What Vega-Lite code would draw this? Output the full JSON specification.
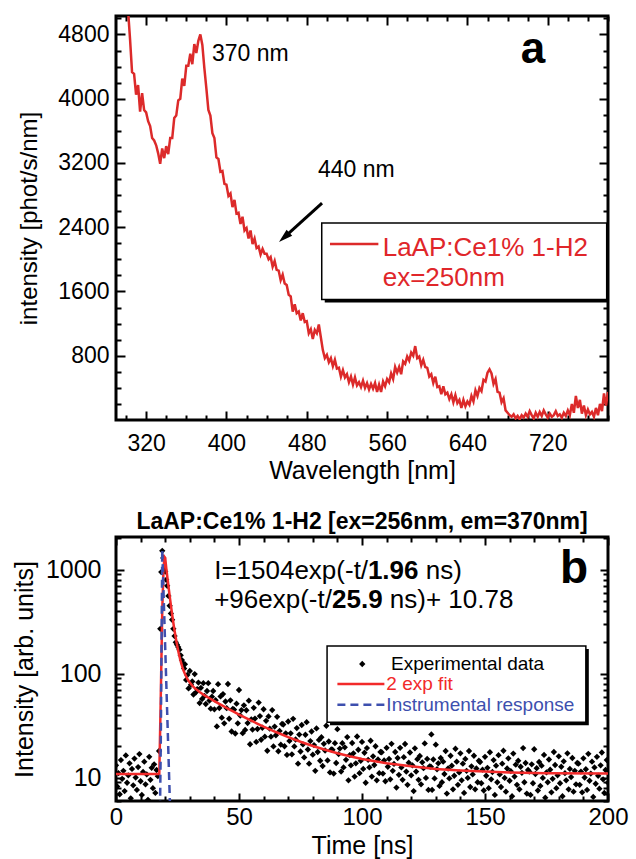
{
  "$schema": "https://vega.github.io/schema/vega-lite/v6.json",
  "background": "white",
  "padding": {"left": 10, "top": 13, "right": 0, "bottom": 0},
  "spacing": 24,
  "datasets": {
    "spectrum": [
      {"nm":300,"v":5600},{"nm":302,"v":5100},{"nm":304,"v":4740},{"nm":306,"v":4330},{"nm":308,"v":4310},{"nm":310,"v":4050},{"nm":312,"v":4170},{"nm":314,"v":3840},{"nm":316,"v":4070},{"nm":318,"v":3860},
      {"nm":320,"v":3830},{"nm":322,"v":3720},{"nm":324,"v":3660},{"nm":326,"v":3510},{"nm":328,"v":3480},{"nm":330,"v":3420},{"nm":332,"v":3320},{"nm":334,"v":3190},{"nm":336,"v":3380},{"nm":338,"v":3260},
      {"nm":340,"v":3410},{"nm":342,"v":3310},{"nm":344,"v":3510},{"nm":346,"v":3510},{"nm":348,"v":3760},{"nm":350,"v":3790},{"nm":352,"v":3980},{"nm":354,"v":4000},{"nm":356,"v":4250},{"nm":358,"v":4160},
      {"nm":360,"v":4410},{"nm":362,"v":4410},{"nm":364,"v":4560},{"nm":366,"v":4430},{"nm":368,"v":4680},{"nm":370,"v":4570},{"nm":372,"v":4720},{"nm":374,"v":4800},{"nm":376,"v":4670},{"nm":378,"v":4380},
      {"nm":380,"v":4130},{"nm":382,"v":3860},{"nm":384,"v":3790},{"nm":386,"v":3570},{"nm":388,"v":3510},{"nm":390,"v":3270},{"nm":392,"v":3250},{"nm":394,"v":3090},{"nm":396,"v":3100},{"nm":398,"v":2940},
      {"nm":400,"v":2930},{"nm":402,"v":2790},{"nm":404,"v":2820},{"nm":406,"v":2650},{"nm":408,"v":2740},{"nm":410,"v":2570},{"nm":412,"v":2580},{"nm":414,"v":2440},{"nm":416,"v":2530},{"nm":418,"v":2360},
      {"nm":420,"v":2390},{"nm":422,"v":2260},{"nm":424,"v":2360},{"nm":426,"v":2190},{"nm":428,"v":2260},{"nm":430,"v":2140},{"nm":432,"v":2160},{"nm":434,"v":2060},{"nm":436,"v":2130},{"nm":438,"v":2070},
      {"nm":440,"v":2070},{"nm":442,"v":2000},{"nm":444,"v":2030},{"nm":446,"v":1910},{"nm":448,"v":1980},{"nm":450,"v":1870},{"nm":452,"v":1860},{"nm":454,"v":1740},{"nm":456,"v":1810},{"nm":458,"v":1700},
      {"nm":460,"v":1680},{"nm":462,"v":1560},{"nm":464,"v":1540},{"nm":466,"v":1350},{"nm":468,"v":1440},{"nm":470,"v":1330},{"nm":472,"v":1350},{"nm":474,"v":1240},{"nm":476,"v":1330},{"nm":478,"v":1220},
      {"nm":480,"v":1230},{"nm":482,"v":1080},{"nm":484,"v":1130},{"nm":486,"v":1010},{"nm":488,"v":1120},{"nm":490,"v":1080},{"nm":492,"v":1190},{"nm":494,"v":1030},{"nm":496,"v":870},{"nm":498,"v":770},
      {"nm":500,"v":810},{"nm":502,"v":720},{"nm":504,"v":770},{"nm":506,"v":670},{"nm":508,"v":750},{"nm":510,"v":640},{"nm":512,"v":650},{"nm":514,"v":540},{"nm":516,"v":620},{"nm":518,"v":530},
      {"nm":520,"v":570},{"nm":522,"v":470},{"nm":524,"v":540},{"nm":526,"v":440},{"nm":528,"v":530},{"nm":530,"v":430},{"nm":532,"v":470},{"nm":534,"v":410},{"nm":536,"v":490},{"nm":538,"v":400},
      {"nm":540,"v":460},{"nm":542,"v":380},{"nm":544,"v":450},{"nm":546,"v":390},{"nm":548,"v":460},{"nm":550,"v":350},{"nm":552,"v":440},{"nm":554,"v":350},{"nm":556,"v":480},{"nm":558,"v":420},
      {"nm":560,"v":510},{"nm":562,"v":470},{"nm":564,"v":580},{"nm":566,"v":510},{"nm":568,"v":660},{"nm":570,"v":590},{"nm":572,"v":660},{"nm":574,"v":570},{"nm":576,"v":730},{"nm":578,"v":700},
      {"nm":580,"v":790},{"nm":582,"v":740},{"nm":584,"v":840},{"nm":586,"v":800},{"nm":588,"v":920},{"nm":590,"v":770},{"nm":592,"v":790},{"nm":594,"v":680},{"nm":596,"v":750},{"nm":598,"v":660},
      {"nm":600,"v":650},{"nm":602,"v":540},{"nm":604,"v":570},{"nm":606,"v":460},{"nm":608,"v":540},{"nm":610,"v":410},{"nm":612,"v":420},{"nm":614,"v":320},{"nm":616,"v":420},{"nm":618,"v":320},
      {"nm":620,"v":340},{"nm":622,"v":260},{"nm":624,"v":320},{"nm":626,"v":220},{"nm":628,"v":310},{"nm":630,"v":210},{"nm":632,"v":250},{"nm":634,"v":150},{"nm":636,"v":250},{"nm":638,"v":170},
      {"nm":640,"v":230},{"nm":642,"v":190},{"nm":644,"v":300},{"nm":646,"v":230},{"nm":648,"v":370},{"nm":650,"v":300},{"nm":652,"v":400},{"nm":654,"v":360},{"nm":656,"v":500},{"nm":658,"v":480},
      {"nm":660,"v":590},{"nm":662,"v":630},{"nm":664,"v":580},{"nm":666,"v":450},{"nm":668,"v":510},{"nm":670,"v":350},{"nm":672,"v":340},{"nm":674,"v":220},{"nm":676,"v":270},{"nm":678,"v":120},
      {"nm":680,"v":90},{"nm":682,"v":60},{"nm":684,"v":40},{"nm":686,"v":70},{"nm":688,"v":20},{"nm":690,"v":50},{"nm":692,"v":10},{"nm":694,"v":60},{"nm":696,"v":30},{"nm":698,"v":80},
      {"nm":700,"v":40},{"nm":702,"v":110},{"nm":704,"v":60},{"nm":706,"v":20},{"nm":708,"v":90},{"nm":710,"v":40},{"nm":712,"v":100},{"nm":714,"v":50},{"nm":716,"v":120},{"nm":718,"v":70},
      {"nm":720,"v":30},{"nm":722,"v":80},{"nm":724,"v":40},{"nm":726,"v":60},{"nm":728,"v":110},{"nm":730,"v":50},{"nm":732,"v":70},{"nm":734,"v":30},{"nm":736,"v":90},{"nm":738,"v":50},
      {"nm":740,"v":120},{"nm":742,"v":60},{"nm":744,"v":200},{"nm":746,"v":90},{"nm":748,"v":300},{"nm":750,"v":150},{"nm":752,"v":250},{"nm":754,"v":80},{"nm":756,"v":180},{"nm":758,"v":60},
      {"nm":760,"v":130},{"nm":762,"v":70},{"nm":764,"v":100},{"nm":766,"v":40},{"nm":768,"v":150},{"nm":770,"v":60},{"nm":772,"v":200},{"nm":774,"v":110},{"nm":776,"v":330},{"nm":778,"v":180},{"nm":780,"v":350}
    ],
    "decay": [
      {"t":0,"v":13.1},{"t":0.5,"v":8.2},{"t":1,"v":11.0},{"t":1.5,"v":6.9},{"t":2,"v":14.7},{"t":2.5,"v":9.7},{"t":3,"v":11.6},{"t":3.5,"v":7.4},{"t":4,"v":16.3},{"t":4.5,"v":8.9},
      {"t":5,"v":10.5},{"t":5.5,"v":13.7},{"t":6,"v":6.3},{"t":6.5,"v":12.1},{"t":7,"v":8.4},{"t":7.5,"v":15.2},{"t":8,"v":10.0},{"t":8.5,"v":7.6},{"t":9,"v":12.6},{"t":9.5,"v":16.8},
      {"t":10,"v":9.2},{"t":10.5,"v":6.8},{"t":11,"v":11.3},{"t":11.5,"v":14.2},{"t":12,"v":8.6},{"t":12.5,"v":10.7},{"t":13,"v":6.1},{"t":13.5,"v":15.8},{"t":14,"v":9.5},{"t":14.5,"v":12.4},
      {"t":15,"v":7.9},{"t":15.5,"v":13.4},{"t":16,"v":7.1},{"t":16.5,"v":11.8},{"t":17,"v":10.3},
      {"t":17.5,"v":18},{"t":18.0,"v":270},{"t":18.4,"v":950},{"t":18.8,"v":1520},{"t":19.2,"v":1300},{"t":19.6,"v":1000},{"t":20.0,"v":960},{"t":20.4,"v":800},{"t":20.8,"v":700},{"t":21.3,"v":560},
      {"t":21.8,"v":450},{"t":22.3,"v":380},{"t":22.8,"v":330},{"t":23.3,"v":270},{"t":23.8,"v":230},{"t":24.3,"v":200},{"t":24.8,"v":190},{"t":25.3,"v":180},{"t":25.8,"v":170},{"t":26.3,"v":150},
      {"t":26.8,"v":135},{"t":27.3,"v":125},{"t":27.7,"v":112},
      {"t":28,"v":123},{"t":28.5,"v":87},{"t":29,"v":97},{"t":29.5,"v":72},{"t":30,"v":106},{"t":30.5,"v":78},{"t":31,"v":84},{"t":31.5,"v":63},{"t":32,"v":99},{"t":32.5,"v":66},
      {"t":33,"v":71},{"t":33.5,"v":82},{"t":34,"v":52},{"t":34.5,"v":73},{"t":35,"v":57},{"t":35.5,"v":81},{"t":36,"v":61},{"t":36.5,"v":51},{"t":37,"v":68},{"t":37.5,"v":81},
      {"t":38,"v":55},{"t":38.5,"v":46},{"t":39,"v":60},{"t":39.5,"v":68},{"t":40,"v":45.3},{"t":40.5,"v":55.5},{"t":41,"v":31.0},{"t":41.5,"v":79.1},{"t":42,"v":46.7},{"t":42.5,"v":60.3},
      {"t":43,"v":37.7},{"t":43.5,"v":63.5},{"t":44,"v":33.2},{"t":44.5,"v":53.9},{"t":45,"v":46.5},{"t":45.5,"v":79.4},{"t":46,"v":36.8},{"t":46.5,"v":55.3},{"t":47,"v":27.7},{"t":47.5,"v":45.8},
      {"t":48,"v":45.1},{"t":48.5,"v":26.5},{"t":49,"v":51.4},{"t":49.5,"v":33.2},{"t":50,"v":69.5},{"t":50.5,"v":39.5},{"t":51,"v":44.6},{"t":51.5,"v":26.7},{"t":52,"v":49.5},{"t":52.5,"v":28.7},
      {"t":53,"v":44.4},{"t":53.5,"v":33.4},{"t":54,"v":54.9},{"t":54.5,"v":20.9},{"t":55,"v":36.3},{"t":55.5,"v":28.9},{"t":56,"v":46.8},{"t":56.5,"v":36.9},{"t":57,"v":22.0},{"t":57.5,"v":29.3},
      {"t":58,"v":52.6},{"t":58.5,"v":39.0},{"t":59,"v":23.1},{"t":59.5,"v":30.1},{"t":60,"v":45.4},{"t":60.5,"v":24.7},{"t":61,"v":35.1},{"t":61.5,"v":18.1},{"t":62,"v":38.7},{"t":62.5,"v":29.5},
      {"t":63,"v":24.7},{"t":63.5,"v":44.6},{"t":64,"v":19.9},{"t":64.5,"v":30.9},{"t":65,"v":25.5},{"t":65.5,"v":38.4},{"t":66,"v":17.9},{"t":66.5,"v":28.1},{"t":67,"v":20.7},{"t":67.5,"v":32.8},
      {"t":68,"v":32.4},{"t":68.5,"v":20.0},{"t":69,"v":26.6},{"t":69.5,"v":16.5},{"t":70,"v":34.6},{"t":70.5,"v":22.5},{"t":71,"v":26.6},{"t":71.5,"v":16.7},{"t":72,"v":36.7},{"t":72.5,"v":19.9},
      {"t":73,"v":23.2},{"t":73.5,"v":29.9},{"t":74,"v":13.6},{"t":74.5,"v":25.9},{"t":75,"v":17.8},{"t":75.5,"v":32.0},{"t":76,"v":20.8},{"t":76.5,"v":15.6},{"t":77,"v":25.8},{"t":77.5,"v":34.1},
      {"t":78,"v":18.6},{"t":78.5,"v":13.6},{"t":79,"v":22.4},{"t":79.5,"v":27.7},{"t":80,"v":16.6},{"t":80.5,"v":20.5},{"t":81,"v":11.6},{"t":81.5,"v":29.7},{"t":82,"v":17.6},{"t":82.5,"v":23.0},
      {"t":83,"v":14.5},{"t":83.5,"v":24.4},{"t":84,"v":12.9},{"t":84.5,"v":21.1},{"t":85,"v":18.2},{"t":85.5,"v":31.5},{"t":86,"v":14.6},{"t":86.5,"v":22.2},{"t":87,"v":11.2},{"t":87.5,"v":18.6},
      {"t":88,"v":18.5},{"t":88.5,"v":10.9},{"t":89,"v":21.4},{"t":89.5,"v":13.8},{"t":90,"v":29.2},{"t":90.5,"v":16.8},{"t":91,"v":19.0},{"t":91.5,"v":11.4},{"t":92,"v":21.4},{"t":92.5,"v":12.5},
      {"t":93,"v":19.5},{"t":93.5,"v":14.8},{"t":94,"v":24.5},{"t":94.5,"v":9.4},{"t":95,"v":16.4},{"t":95.5,"v":13.1},{"t":96,"v":21.5},{"t":96.5,"v":17.1},{"t":97,"v":10.2},{"t":97.5,"v":13.7},
      {"t":98,"v":24.8},{"t":98.5,"v":18.5},{"t":99,"v":11.0},{"t":99.5,"v":14.5},{"t":100,"v":22.0},{"t":100.5,"v":12.1},{"t":101,"v":17.3},{"t":101.5,"v":8.9},{"t":102,"v":19.2},{"t":102.5,"v":14.8},
      {"t":103,"v":12.5},{"t":103.5,"v":22.6},{"t":104,"v":10.2},{"t":104.5,"v":16.0},{"t":105,"v":13.2},{"t":105.5,"v":20.0},{"t":106,"v":9.4},{"t":106.5,"v":14.9},{"t":107,"v":11.0},{"t":107.5,"v":17.6},
      {"t":108,"v":17.5},{"t":108.5,"v":10.9},{"t":109,"v":14.6},{"t":109.5,"v":9.2},{"t":110,"v":19.3},{"t":110.5,"v":12.7},{"t":111,"v":15.1},{"t":111.5,"v":9.6},{"t":112,"v":21.1},{"t":112.5,"v":11.6},
      {"t":113,"v":13.5},{"t":113.5,"v":17.6},{"t":114,"v":8.0},{"t":114.5,"v":15.4},{"t":115,"v":10.6},{"t":115.5,"v":19.3},{"t":116,"v":12.5},{"t":116.5,"v":9.5},{"t":117,"v":15.7},{"t":117.5,"v":21.0},
      {"t":118,"v":11.4},{"t":118.5,"v":8.5},{"t":119,"v":13.9},{"t":119.5,"v":17.4},{"t":120,"v":10.5},{"t":120.5,"v":13.1},{"t":121,"v":7.4},{"t":121.5,"v":19.1},{"t":122,"v":11.4},{"t":122.5,"v":15.0},
      {"t":123,"v":9.5},{"t":123.5,"v":16.1},{"t":124,"v":8.6},{"t":124.5,"v":14.0},{"t":125,"v":12.3},{"t":125.5,"v":21.3},{"t":126,"v":9.9},{"t":126.5,"v":15.1},{"t":127,"v":7.6},{"t":127.5,"v":12.8},
      {"t":128.2,"v":26},
      {"t":128,"v":12.7},{"t":128.5,"v":7.6},{"t":129,"v":14.9},{"t":129.5,"v":9.8},{"t":130,"v":20.7},{"t":130.5,"v":12.0},{"t":131,"v":13.7},{"t":131.5,"v":8.3},{"t":132,"v":15.4},{"t":132.5,"v":9.0},
      {"t":133,"v":14.2},{"t":133.5,"v":10.8},{"t":134,"v":18.0},{"t":134.5,"v":7.0},{"t":135,"v":12.2},{"t":135.5,"v":9.8},{"t":136,"v":16.2},{"t":136.5,"v":13.0},{"t":137,"v":7.7},{"t":137.5,"v":10.4},
      {"t":138,"v":18.9},{"t":138.5,"v":14.2},{"t":139,"v":8.5},{"t":139.5,"v":11.2},{"t":140,"v":17.1},{"t":140.5,"v":9.4},{"t":141,"v":13.6},{"t":141.5,"v":7.1},{"t":142,"v":15.1},{"t":142.5,"v":11.6},
      {"t":143,"v":9.9},{"t":143.5,"v":18.0},{"t":144,"v":8.1},{"t":144.5,"v":12.8},{"t":145,"v":10.7},{"t":145.5,"v":16.2},{"t":146,"v":7.7},{"t":146.5,"v":12.2},{"t":147,"v":9.0},{"t":147.5,"v":14.5},
      {"t":148,"v":14.1},{"t":148.5,"v":8.8},{"t":149,"v":11.9},{"t":149.5,"v":7.5},{"t":150,"v":15.8},{"t":150.5,"v":10.4},{"t":151,"v":12.4},{"t":151.5,"v":7.9},{"t":152,"v":17.5},{"t":152.5,"v":9.6},
      {"t":153,"v":11.3},{"t":153.5,"v":14.7},{"t":154,"v":6.8},{"t":154.5,"v":13.0},{"t":155,"v":9.0},{"t":155.5,"v":16.4},{"t":156,"v":10.7},{"t":156.5,"v":8.1},{"t":157,"v":13.6},{"t":157.5,"v":18.1},
      {"t":158,"v":9.9},{"t":158.5,"v":7.3},{"t":159,"v":12.2},{"t":159.5,"v":15.3},{"t":160,"v":9.3},{"t":160.5,"v":11.5},{"t":161,"v":6.6},{"t":161.5,"v":17.0},{"t":162,"v":10.2},{"t":162.5,"v":13.3},
      {"t":163,"v":8.5},{"t":163.5,"v":14.5},{"t":164,"v":7.7},{"t":164.5,"v":12.7},{"t":165,"v":11.1},{"t":165.5,"v":19.2},{"t":166,"v":9.0},{"t":166.5,"v":13.8},{"t":167,"v":7.0},{"t":167.5,"v":11.8},
      {"t":168,"v":11.4},{"t":168.5,"v":6.8},{"t":169,"v":13.4},{"t":169.5,"v":8.8},{"t":170,"v":18.7},{"t":170.5,"v":10.8},{"t":171,"v":12.3},{"t":171.5,"v":7.5},{"t":172,"v":14.1},{"t":172.5,"v":8.3},
      {"t":173,"v":13.0},{"t":173.5,"v":9.9},{"t":174,"v":16.5},{"t":174.5,"v":6.4},{"t":175,"v":11.2},{"t":175.5,"v":9.0},{"t":176,"v":14.9},{"t":176.5,"v":11.9},{"t":177,"v":7.2},{"t":177.5,"v":9.7},
      {"t":178,"v":17.6},{"t":178.5,"v":13.2},{"t":179,"v":7.9},{"t":179.5,"v":10.5},{"t":180,"v":16.0},{"t":180.5,"v":8.8},{"t":181,"v":12.7},{"t":181.5,"v":6.6},{"t":182,"v":14.3},{"t":182.5,"v":11.0},
      {"t":183,"v":9.4},{"t":183.5,"v":17.1},{"t":184,"v":7.7},{"t":184.5,"v":12.1},{"t":185,"v":10.1},{"t":185.5,"v":15.4},{"t":186,"v":7.3},{"t":186.5,"v":11.6},{"t":187,"v":8.6},{"t":187.5,"v":13.8},
      {"t":188,"v":13.6},{"t":188.5,"v":8.5},{"t":189,"v":11.4},{"t":189.5,"v":7.2},{"t":190,"v":15.3},{"t":190.5,"v":10.0},{"t":191,"v":12.0},{"t":191.5,"v":7.6},{"t":192,"v":16.9},{"t":192.5,"v":9.3},
      {"t":193,"v":10.9},{"t":193.5,"v":14.2},{"t":194,"v":6.5},{"t":194.5,"v":12.5},{"t":195,"v":8.7},{"t":195.5,"v":15.8},{"t":196,"v":10.4},{"t":196.5,"v":7.8},{"t":197,"v":13.1},{"t":197.5,"v":17.4},
      {"t":198,"v":9.6},{"t":198.5,"v":7.1},{"t":199,"v":11.8},{"t":199.5,"v":14.7},{"t":200,"v":8.9}
    ],
    "fit": [
      {"t":0,"v":10.8},{"t":17.6,"v":10.8},{"t":18.2,"v":60},{"t":18.8,"v":400},{"t":19.3,"v":1000},{"t":19.7,"v":1330},{"t":20.0,"v":1300},{"t":20.5,"v":1005},{"t":21.0,"v":801},{"t":21.5,"v":642},
      {"t":22.0,"v":518},{"t":22.5,"v":422},{"t":23.0,"v":347},{"t":23.5,"v":288},{"t":24.0,"v":243},{"t":24.5,"v":207},{"t":25.0,"v":179},{"t":25.5,"v":157},{"t":26.0,"v":140},{"t":26.5,"v":126},
      {"t":27.0,"v":115.5},{"t":27.5,"v":106.7},{"t":28,"v":99.7},{"t":29,"v":89.1},{"t":30,"v":81.9},{"t":31,"v":76.7},{"t":32,"v":72.6},{"t":33,"v":69.4},{"t":34,"v":66.6},{"t":35,"v":64.1},
      {"t":36,"v":61.8},{"t":37,"v":59.8},{"t":38,"v":57.9},{"t":40,"v":54.4},{"t":42,"v":51.1},{"t":44,"v":48.1},{"t":46,"v":45.3},{"t":48,"v":42.8},{"t":50,"v":40.3},{"t":55,"v":35.2},
      {"t":60,"v":30.9},{"t":65,"v":27.4},{"t":70,"v":24.5},{"t":75,"v":22.1},{"t":80,"v":20.1},{"t":85,"v":18.5},{"t":90,"v":17.1},{"t":95,"v":16.0},{"t":100,"v":15.1},{"t":110,"v":13.7},
      {"t":120,"v":12.8},{"t":130,"v":12.1},{"t":140,"v":11.7},{"t":150,"v":11.4},{"t":160,"v":11.2},{"t":175,"v":11.0},{"t":200,"v":10.9}
    ],
    "irf": [
      {"t":17.9,"v":5},{"t":18.2,"v":21},{"t":18.4,"v":88},{"t":18.6,"v":370},{"t":18.8,"v":1550},{"t":19.2,"v":759},{"t":19.6,"v":368},{"t":20.0,"v":180},{"t":20.4,"v":87.5},{"t":20.8,"v":42.7},
      {"t":21.2,"v":20.8},{"t":21.6,"v":10.1},{"t":22.0,"v":4.9}
    ],
    "one": [{}]
  },
  "vconcat": [
    {
      "width": 492,
      "height": 404,
      "resolve": {"axis": {"x": "independent", "y": "independent"}},
      "layer": [
        {
          "data": {"name": "spectrum"},
          "mark": {"type": "line", "color": "#dc2a2a", "strokeWidth": 2.5, "clip": true},
          "encoding": {
            "x": {"field": "nm", "type": "quantitative", "scale": {"domain": [290, 780], "nice": false, "zero": false},
              "axis": {"orient": "bottom", "values": [320, 400, 480, 560, 640, 720], "format": "d", "tickSize": -9, "labelPadding": 21, "labelFontSize": 23, "title": "Wavelength [nm]", "titleFontSize": 25, "titlePadding": 3}},
            "y": {"field": "v", "type": "quantitative", "scale": {"domain": [0, 5030], "nice": false},
              "axis": {"orient": "left", "values": [800, 1600, 2400, 3200, 4000, 4800], "format": "d", "tickSize": -9, "labelPadding": 16, "labelFontSize": 23, "title": "intensity [phot/s/nm]", "titleFontSize": 24, "titlePadding": 16}}
          }
        },
        {
          "data": {"name": "spectrum"},
          "mark": {"type": "line", "opacity": 0, "clip": true},
          "encoding": {
            "x": {"field": "nm", "type": "quantitative", "axis": {"orient": "bottom", "values": [300, 340, 360, 380, 420, 440, 460, 500, 520, 540, 580, 600, 620, 660, 680, 700, 740, 760, 780], "tickSize": -5, "labels": false, "title": null}},
            "y": {"field": "v", "type": "quantitative", "axis": {"orient": "left", "values": [200, 400, 600, 1000, 1200, 1400, 1800, 2000, 2200, 2600, 2800, 3000, 3400, 3600, 3800, 4200, 4400, 4600, 5000], "tickSize": -5, "labels": false, "title": null}}
          }
        },
        {
          "data": {"name": "spectrum"},
          "mark": {"type": "line", "opacity": 0, "clip": true},
          "encoding": {
            "x": {"field": "nm", "type": "quantitative", "axis": {"orient": "top", "values": [320, 400, 480, 560, 640, 720], "tickSize": -9, "labels": false, "title": null}},
            "y": {"field": "v", "type": "quantitative", "axis": {"orient": "right", "values": [800, 1600, 2400, 3200, 4000, 4800], "tickSize": -9, "labels": false, "title": null}}
          }
        },
        {
          "data": {"name": "spectrum"},
          "mark": {"type": "line", "opacity": 0, "clip": true},
          "encoding": {
            "x": {"field": "nm", "type": "quantitative", "axis": {"orient": "top", "values": [300, 340, 360, 380, 420, 440, 460, 500, 520, 540, 580, 600, 620, 660, 680, 700, 740, 760, 780], "tickSize": -5, "labels": false, "title": null}},
            "y": {"field": "v", "type": "quantitative", "axis": {"orient": "right", "values": [200, 400, 600, 1000, 1200, 1400, 1800, 2000, 2200, 2600, 2800, 3000, 3400, 3600, 3800, 4200, 4400, 4600, 5000], "tickSize": -5, "labels": false, "title": null}}
          }
        },
        {
          "data": {"name": "one"},
          "mark": {"type": "rect", "color": "black", "clip": true},
          "encoding": {"x": {"datum": 497.9, "axis": null}, "x2": {"datum": 781.7}, "y": {"datum": 2416, "axis": null}, "y2": {"datum": 1462}}
        },
        {
          "data": {"name": "one"},
          "mark": {"type": "rect", "fill": "white", "stroke": "black", "strokeWidth": 1.5},
          "encoding": {"x": {"datum": 494.9, "axis": null}, "x2": {"datum": 778.7}, "y": {"datum": 2453, "axis": null}, "y2": {"datum": 1499}}
        },
        {
          "data": {"name": "one"},
          "mark": {"type": "rule", "color": "#dc2a2a", "strokeWidth": 2.5},
          "encoding": {"x": {"datum": 503.1, "axis": null}, "x2": {"datum": 551.3}, "y": {"datum": 2191, "axis": null}}
        },
        {
          "data": {"name": "one"},
          "mark": {"type": "text", "text": "LaAP:Ce1% 1-H2", "color": "#e0262a", "fontSize": 26, "align": "left", "baseline": "alphabetic"},
          "encoding": {"x": {"datum": 555.6, "axis": null}, "y": {"datum": 2047, "axis": null}}
        },
        {
          "data": {"name": "one"},
          "mark": {"type": "text", "text": "ex=250nm", "color": "#e0262a", "fontSize": 26, "align": "left", "baseline": "alphabetic"},
          "encoding": {"x": {"datum": 555.6, "axis": null}, "y": {"datum": 1673, "axis": null}}
        },
        {
          "data": {"name": "one"},
          "mark": {"type": "text", "text": "370 nm", "color": "black", "fontSize": 23, "align": "left", "baseline": "middle"},
          "encoding": {"x": {"datum": 385.6, "axis": null}, "y": {"datum": 4553, "axis": null}}
        },
        {
          "data": {"name": "one"},
          "mark": {"type": "text", "text": "440 nm", "color": "black", "fontSize": 23, "align": "left", "baseline": "middle"},
          "encoding": {"x": {"datum": 491.2, "axis": null}, "y": {"datum": 3109, "axis": null}}
        },
        {
          "data": {"name": "one"},
          "mark": {"type": "rule", "color": "black", "strokeWidth": 3},
          "encoding": {"x": {"datum": 495.2, "axis": null}, "x2": {"datum": 457.5}, "y": {"datum": 2700, "axis": null}, "y2": {"datum": 2273}}
        },
        {
          "data": {"name": "one"},
          "mark": {"type": "point", "shape": "M0,-1L0.6,1L-0.6,1Z", "filled": true, "color": "black", "opacity": 1, "size": 196, "angle": 228},
          "encoding": {"x": {"datum": 457.5, "axis": null}, "y": {"datum": 2273, "axis": null}}
        },
        {
          "data": {"name": "one"},
          "mark": {"type": "text", "text": "a", "color": "black", "fontSize": 44, "fontWeight": "bold", "align": "center", "baseline": "middle"},
          "encoding": {"x": {"datum": 705.3, "axis": null}, "y": {"datum": 4602, "axis": null}}
        }
      ]
    },
    {
      "width": 492,
      "height": 264,
      "title": {"text": "LaAP:Ce1% 1-H2 [ex=256nm, em=370nm]", "fontSize": 23, "fontWeight": "bold", "anchor": "middle", "frame": "group", "offset": 2},
      "resolve": {"axis": {"x": "independent", "y": "independent"}},
      "layer": [
        {
          "data": {"name": "decay"},
          "mark": {"type": "point", "shape": "diamond", "filled": true, "color": "black", "opacity": 1, "size": 40, "clip": true},
          "encoding": {
            "x": {"field": "t", "type": "quantitative", "scale": {"domain": [0, 200], "nice": false, "zero": false},
              "axis": {"orient": "bottom", "values": [0, 50, 100, 150, 200], "format": "d", "tickSize": -8, "labelPadding": 12, "labelFontSize": 24, "title": "Time [ns]", "titleFontSize": 25, "titlePadding": 4}},
            "y": {"field": "v", "type": "quantitative", "scale": {"type": "log", "domain": [5.94, 2066], "nice": false},
              "axis": {"orient": "left", "values": [10, 100, 1000], "format": "d", "tickSize": -8, "labelPadding": 23, "labelFontSize": 25, "title": "Intensity [arb. units]", "titleFontSize": 25, "titlePadding": 8}}
          }
        },
        {
          "data": {"name": "fit"},
          "mark": {"type": "line", "color": "#f22a2a", "strokeWidth": 2.5, "clip": true},
          "encoding": {
            "x": {"field": "t", "type": "quantitative", "axis": {"orient": "bottom", "values": [10, 20, 30, 40, 60, 70, 80, 90, 110, 120, 130, 140, 160, 170, 180, 190], "tickSize": -5, "labels": false, "title": null}},
            "y": {"field": "v", "type": "quantitative", "axis": {"orient": "left", "values": [6, 7, 8, 9, 20, 30, 40, 50, 60, 70, 80, 90, 200, 300, 400, 500, 600, 700, 800, 900, 2000], "tickSize": -5, "labels": false, "title": null}}
          }
        },
        {
          "data": {"name": "irf"},
          "mark": {"type": "line", "color": "#3d4fae", "strokeWidth": 2.5, "strokeDash": [8, 5], "clip": true},
          "encoding": {
            "x": {"field": "t", "type": "quantitative", "axis": {"orient": "top", "values": [0, 50, 100, 150, 200], "tickSize": -8, "labels": false, "title": null}},
            "y": {"field": "v", "type": "quantitative", "axis": {"orient": "right", "values": [10, 100, 1000], "tickSize": -8, "labels": false, "title": null}}
          }
        },
        {
          "data": {"name": "fit"},
          "mark": {"type": "line", "opacity": 0, "clip": true},
          "encoding": {
            "x": {"field": "t", "type": "quantitative", "axis": {"orient": "top", "values": [10, 20, 30, 40, 60, 70, 80, 90, 110, 120, 130, 140, 160, 170, 180, 190], "tickSize": -5, "labels": false, "title": null}},
            "y": {"field": "v", "type": "quantitative", "axis": {"orient": "right", "values": [6, 7, 8, 9, 20, 30, 40, 50, 60, 70, 80, 90, 200, 300, 400, 500, 600, 700, 800, 900, 2000], "tickSize": -5, "labels": false, "title": null}}
          }
        },
        {
          "data": {"name": "one"},
          "mark": {"type": "text", "text": "I=1504exp(-t/", "color": "black", "fontSize": 26, "align": "left", "baseline": "middle"},
          "encoding": {"x": {"datum": 39.9, "axis": null}, "y": {"datum": 977, "axis": null}}
        },
        {
          "data": {"name": "one"},
          "mark": {"type": "text", "text": "1.96", "color": "black", "fontSize": 26, "fontWeight": "bold", "align": "left", "baseline": "middle"},
          "encoding": {"x": {"datum": 102.4, "axis": null}, "y": {"datum": 977, "axis": null}}
        },
        {
          "data": {"name": "one"},
          "mark": {"type": "text", "text": "ns)", "color": "black", "fontSize": 26, "align": "left", "baseline": "middle"},
          "encoding": {"x": {"datum": 125.9, "axis": null}, "y": {"datum": 977, "axis": null}}
        },
        {
          "data": {"name": "one"},
          "mark": {"type": "text", "text": "+96exp(-t/", "color": "black", "fontSize": 26, "align": "left", "baseline": "middle"},
          "encoding": {"x": {"datum": 39.9, "axis": null}, "y": {"datum": 513, "axis": null}}
        },
        {
          "data": {"name": "one"},
          "mark": {"type": "text", "text": "25.9", "color": "black", "fontSize": 26, "fontWeight": "bold", "align": "left", "baseline": "middle"},
          "encoding": {"x": {"datum": 87.8, "axis": null}, "y": {"datum": 513, "axis": null}}
        },
        {
          "data": {"name": "one"},
          "mark": {"type": "text", "text": "ns)+ 10.78", "color": "black", "fontSize": 26, "align": "left", "baseline": "middle"},
          "encoding": {"x": {"datum": 111.3, "axis": null}, "y": {"datum": 513, "axis": null}}
        },
        {
          "data": {"name": "one"},
          "mark": {"type": "text", "text": "b", "color": "black", "fontSize": 46, "fontWeight": "bold", "align": "center", "baseline": "middle"},
          "encoding": {"x": {"datum": 186.2, "axis": null}, "y": {"datum": 1022, "axis": null}}
        },
        {
          "data": {"name": "one"},
          "mark": {"type": "rect", "color": "black"},
          "encoding": {"x": {"datum": 87.0, "axis": null}, "x2": {"datum": 192.2}, "y": {"datum": 172.8, "axis": null}, "y2": {"datum": 31.9}}
        },
        {
          "data": {"name": "one"},
          "mark": {"type": "rect", "fill": "white", "stroke": "black", "strokeWidth": 1.5},
          "encoding": {"x": {"datum": 85.8, "axis": null}, "x2": {"datum": 191.0}, "y": {"datum": 184.7, "axis": null}, "y2": {"datum": 34.1}}
        },
        {
          "data": {"name": "one"},
          "mark": {"type": "point", "shape": "diamond", "filled": true, "color": "black", "opacity": 1, "size": 40},
          "encoding": {"x": {"datum": 100.1, "axis": null}, "y": {"datum": 123.8, "axis": null}}
        },
        {
          "data": {"name": "one"},
          "mark": {"type": "text", "text": "Experimental data", "color": "black", "fontSize": 19, "align": "left", "baseline": "middle"},
          "encoding": {"x": {"datum": 111.8, "axis": null}, "y": {"datum": 123.8, "axis": null}}
        },
        {
          "data": {"name": "one"},
          "mark": {"type": "rule", "color": "#f22a2a", "strokeWidth": 2.5},
          "encoding": {"x": {"datum": 90.0, "axis": null}, "x2": {"datum": 109.1}, "y": {"datum": 79.4, "axis": null}}
        },
        {
          "data": {"name": "one"},
          "mark": {"type": "text", "text": "2 exp fit", "color": "#f22a2a", "fontSize": 19, "align": "left", "baseline": "middle"},
          "encoding": {"x": {"datum": 109.9, "axis": null}, "y": {"datum": 79.4, "axis": null}}
        },
        {
          "data": {"name": "one"},
          "mark": {"type": "rule", "color": "#3d4fae", "strokeWidth": 2.5, "strokeDash": [8, 5]},
          "encoding": {"x": {"datum": 90.0, "axis": null}, "x2": {"datum": 109.1}, "y": {"datum": 50.1, "axis": null}}
        },
        {
          "data": {"name": "one"},
          "mark": {"type": "text", "text": "Instrumental response", "color": "#3d4fae", "fontSize": 19, "align": "left", "baseline": "middle"},
          "encoding": {"x": {"datum": 109.9, "axis": null}, "y": {"datum": 50.1, "axis": null}}
        }
      ]
    }
  ],
  "config": {
    "font": "Liberation Sans",
    "view": {"stroke": "black", "strokeWidth": 3},
    "axis": {"grid": false, "domain": false, "tickColor": "black", "tickWidth": 2, "labelColor": "black", "titleColor": "black", "titleFontWeight": "normal", "labelOverlap": false, "labelFlush": false, "labelFont": "Liberation Sans", "titleFont": "Liberation Sans"},
    "title": {"font": "Liberation Sans", "color": "black"},
    "text": {"font": "Liberation Sans"}
  }
}
